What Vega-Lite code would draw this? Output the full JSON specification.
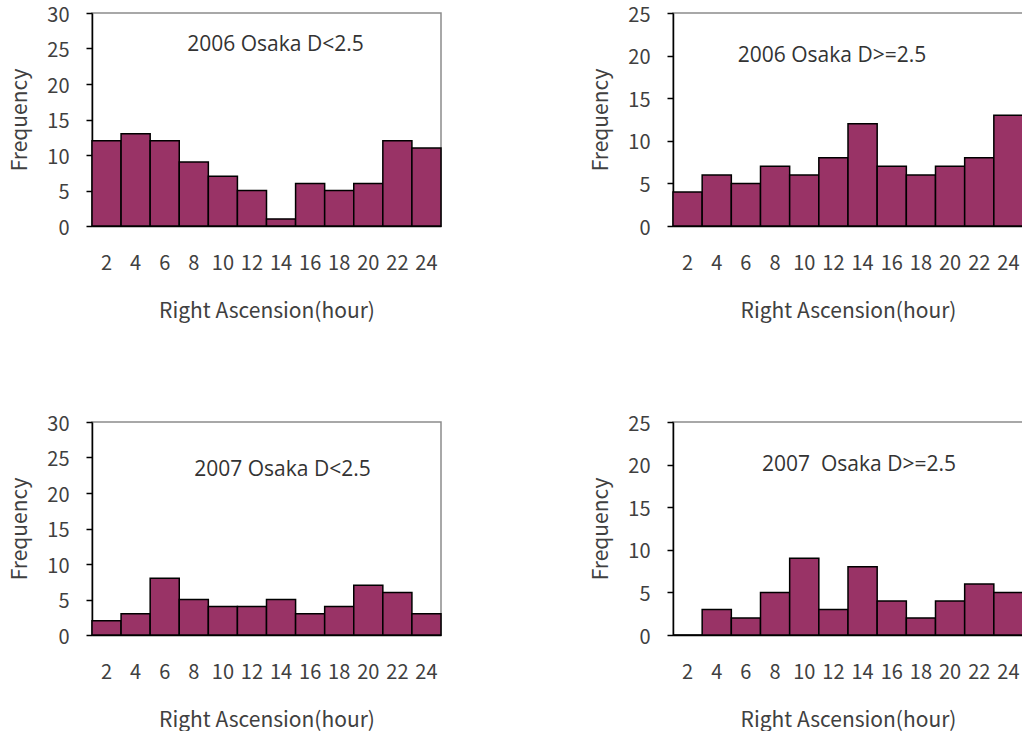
{
  "$schema": "https://vega.github.io/schema/vega-lite/v6.json",
  "padding": {"left": 9, "top": 4, "right": 0, "bottom": 0},
  "background": "white",
  "datasets": {
    "hist": [
      {"panel": "A", "ra": 2, "freq": 12}, {"panel": "A", "ra": 4, "freq": 13}, {"panel": "A", "ra": 6, "freq": 12}, {"panel": "A", "ra": 8, "freq": 9},
      {"panel": "A", "ra": 10, "freq": 7}, {"panel": "A", "ra": 12, "freq": 5}, {"panel": "A", "ra": 14, "freq": 1}, {"panel": "A", "ra": 16, "freq": 6},
      {"panel": "A", "ra": 18, "freq": 5}, {"panel": "A", "ra": 20, "freq": 6}, {"panel": "A", "ra": 22, "freq": 12}, {"panel": "A", "ra": 24, "freq": 11},
      {"panel": "B", "ra": 2, "freq": 4}, {"panel": "B", "ra": 4, "freq": 6}, {"panel": "B", "ra": 6, "freq": 5}, {"panel": "B", "ra": 8, "freq": 7},
      {"panel": "B", "ra": 10, "freq": 6}, {"panel": "B", "ra": 12, "freq": 8}, {"panel": "B", "ra": 14, "freq": 12}, {"panel": "B", "ra": 16, "freq": 7},
      {"panel": "B", "ra": 18, "freq": 6}, {"panel": "B", "ra": 20, "freq": 7}, {"panel": "B", "ra": 22, "freq": 8}, {"panel": "B", "ra": 24, "freq": 13},
      {"panel": "C", "ra": 2, "freq": 2}, {"panel": "C", "ra": 4, "freq": 3}, {"panel": "C", "ra": 6, "freq": 8}, {"panel": "C", "ra": 8, "freq": 5},
      {"panel": "C", "ra": 10, "freq": 4}, {"panel": "C", "ra": 12, "freq": 4}, {"panel": "C", "ra": 14, "freq": 5}, {"panel": "C", "ra": 16, "freq": 3},
      {"panel": "C", "ra": 18, "freq": 4}, {"panel": "C", "ra": 20, "freq": 7}, {"panel": "C", "ra": 22, "freq": 6}, {"panel": "C", "ra": 24, "freq": 3},
      {"panel": "D", "ra": 2, "freq": 0}, {"panel": "D", "ra": 4, "freq": 3}, {"panel": "D", "ra": 6, "freq": 2}, {"panel": "D", "ra": 8, "freq": 5},
      {"panel": "D", "ra": 10, "freq": 9}, {"panel": "D", "ra": 12, "freq": 3}, {"panel": "D", "ra": 14, "freq": 8}, {"panel": "D", "ra": 16, "freq": 4},
      {"panel": "D", "ra": 18, "freq": 2}, {"panel": "D", "ra": 20, "freq": 4}, {"panel": "D", "ra": 22, "freq": 6}, {"panel": "D", "ra": 24, "freq": 5}
    ]
  },
  "spacing": 91,
  "vconcat": [
    {
      "spacing": 147,
      "hconcat": [
        {
          "width": 349, "height": 213,
          "title": {"text": "2006 Osaka D<2.5", "dx": 9, "offset": -50},
          "data": {"name": "hist"},
          "transform": [{"filter": "datum.panel === 'A'"}],
          "mark": {"type": "bar", "fill": "#993366", "stroke": "black", "strokeWidth": 1.5},
          "encoding": {
            "x": {"field": "ra", "type": "ordinal", "title": "Right Ascension(hour)", "scale": {"paddingInner": 0, "paddingOuter": 0}},
            "y": {"field": "freq", "type": "quantitative", "title": "Frequency", "scale": {"domain": [0, 30]}, "axis": {"values": [0, 5, 10, 15, 20, 25, 30]}}
          }
        },
        {
          "width": 350, "height": 213,
          "title": {"text": "2006 Osaka D>=2.5", "dx": -16, "offset": -61},
          "data": {"name": "hist"},
          "transform": [{"filter": "datum.panel === 'B'"}],
          "mark": {"type": "bar", "fill": "#993366", "stroke": "black", "strokeWidth": 1.5},
          "encoding": {
            "x": {"field": "ra", "type": "ordinal", "title": "Right Ascension(hour)", "scale": {"paddingInner": 0, "paddingOuter": 0}},
            "y": {"field": "freq", "type": "quantitative", "title": "Frequency", "scale": {"domain": [0, 25]}, "axis": {"values": [0, 5, 10, 15, 20, 25]}}
          }
        }
      ]
    },
    {
      "spacing": 147,
      "hconcat": [
        {
          "width": 349, "height": 213,
          "title": {"text": "2007 Osaka D<2.5", "dx": 16, "offset": -66},
          "data": {"name": "hist"},
          "transform": [{"filter": "datum.panel === 'C'"}],
          "mark": {"type": "bar", "fill": "#993366", "stroke": "black", "strokeWidth": 1.5},
          "encoding": {
            "x": {"field": "ra", "type": "ordinal", "title": "Right Ascension(hour)", "scale": {"paddingInner": 0, "paddingOuter": 0}},
            "y": {"field": "freq", "type": "quantitative", "title": "Frequency", "scale": {"domain": [0, 30]}, "axis": {"values": [0, 5, 10, 15, 20, 25, 30]}}
          }
        },
        {
          "width": 350, "height": 213,
          "title": {"text": "2007\u00a0\u00a0Osaka D>=2.5", "dx": 11, "offset": -61},
          "data": {"name": "hist"},
          "transform": [{"filter": "datum.panel === 'D'"}],
          "mark": {"type": "bar", "fill": "#993366", "stroke": "black", "strokeWidth": 1.5},
          "encoding": {
            "x": {"field": "ra", "type": "ordinal", "title": "Right Ascension(hour)", "scale": {"paddingInner": 0, "paddingOuter": 0}},
            "y": {"field": "freq", "type": "quantitative", "title": "Frequency", "scale": {"domain": [0, 25]}, "axis": {"values": [0, 5, 10, 15, 20, 25]}}
          }
        }
      ]
    }
  ],
  "config": {
    "view": {"stroke": "#8c8c8c", "strokeWidth": 1.5},
    "title": {"font": "Open Sans", "fontSize": 21, "fontWeight": "normal", "color": "#333333", "anchor": "middle", "baseline": "middle", "frame": "group"},
    "axis": {
      "grid": false,
      "domainColor": "black",
      "domainWidth": 1.5,
      "tickColor": "black",
      "labelFont": "Noto Sans CJK JP",
      "labelFontSize": 20,
      "labelColor": "#404040",
      "titleFont": "Noto Sans CJK JP",
      "titleFontSize": 21,
      "titleFontWeight": "normal",
      "titleColor": "#404040"
    },
    "axisX": {"ticks": false, "labelAngle": 0, "labelPadding": 27, "titlePadding": 27},
    "axisY": {"tickSize": 6, "tickWidth": 1.5, "labelPadding": 17, "titlePadding": 16, "labelOffset": 2}
  }
}
